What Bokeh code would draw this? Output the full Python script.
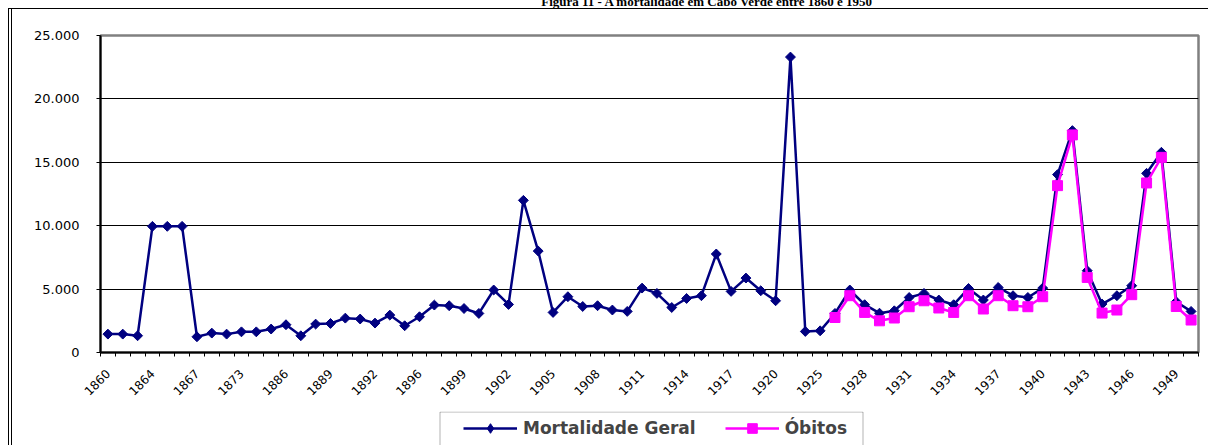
import numpy as np
from math import pi
from bokeh.plotting import figure
from bokeh.layouts import column
from bokeh.models import (ColumnDataSource, FixedTicker, Range1d, Legend, LegendItem, Label,
                          BoxAnnotation)
from bokeh.embed import file_html
from bokeh.resources import INLINE

# ---------------- data ----------------
years = ["1860", "1861", "1862", "1864", "1865", "1866", "1867", "1868", "1870", "1873",
         "1878", "1884", "1886", "1887", "1888", "1889", "1890", "1891", "1892", "1894",
         "1895", "1896", "1897", "1898", "1899", "1900", "1901", "1902", "1903", "1904",
         "1905", "1906", "1907", "1908", "1909", "1910", "1911", "1912", "1913", "1914",
         "1915", "1916", "1917", "1918", "1919", "1920", "1921", "1922", "1925", "1926",
         "1927", "1928", "1929", "1930", "1931", "1932", "1933", "1934", "1935", "1936",
         "1937", "1938", "1939", "1940", "1941", "1942", "1943", "1944", "1945", "1946",
         "1947", "1948", "1949", "1950"]

mortalidade = [1450, 1450, 1320, 9950, 9950, 9950, 1240, 1530, 1450, 1630,
               1630, 1850, 2190, 1320, 2240, 2290, 2710, 2640, 2320, 2950,
               2110, 2820, 3740, 3690, 3470, 3080, 4930, 3790, 12000, 8000,
               3160, 4400, 3630, 3690, 3350, 3240, 5080, 4660, 3550, 4260,
               4480, 7770, 4820, 5870, 4870, 4080, 23300, 1660, 1710, 3080,
               4930, 3770, 3100, 3290, 4340, 4660, 4140, 3770, 5050, 4140,
               5130, 4480, 4340, 5080, 14030, 17500, 6450, 3820, 4480, 5270,
               14130, 15790, 4000, 3240]

obitos = [None] * 49 + [2760, 4480, 3160, 2500, 2720, 3610, 4080, 3510, 3160, 4480,
                        3430, 4480, 3690, 3610, 4400, 13160, 17160, 5920, 3110, 3350,
                        4560, 13370, 15390, 3630, 2560]

series_names = ["Mortalidade Geral", "Óbitos"]
y_ticks = [0, 5000, 10000, 15000, 20000, 25000]
y_tick_labels = ["0", "5.000", "10.000", "15.000", "20.000", "25.000"]
title_text = "Figura 11 - A mortalidade em Cabo Verde entre 1860 e 1950"

NAVY = "#000080"
PINK = "#FF00FF"

# ---------------- main figure ----------------
n = len(years)
src = ColumnDataSource(dict(
    x=list(range(n)),
    mort=mortalidade,
    obit=[np.nan if v is None else v for v in obitos],
))

p = figure(width=1208, height=410, output_backend="svg", toolbar_location=None,
           x_range=Range1d(-0.5, n - 0.5), y_range=Range1d(0, 25000),
           min_border_left=100, min_border_right=10, min_border_top=35, min_border_bottom=58,
           background_fill_color="white", border_fill_color="white")
p.border_fill_alpha = 0
# outer chart-area frame (double line on the left, single line on top)
p.styles = {
    "background": ("linear-gradient(#000,#000) 8px 8px / 1px 100% no-repeat, "
                   "linear-gradient(#000,#000) 11px 8px / 1px 100% no-repeat, "
                   "linear-gradient(#000,#000) 8px 8px / 100% 1px no-repeat, #fff"),
}

p.outline_line_color = "#808080"
p.outline_line_width = 2.5

# x axis
p.xaxis.ticker = FixedTicker(ticks=list(range(0, n, 3)),
                             minor_ticks=[i - 0.5 for i in range(n + 1)])
p.xaxis.major_label_overrides = {i: years[i] for i in range(0, n, 3)}
p.xaxis.major_label_orientation = pi / 4
p.xaxis.major_tick_out = 0
p.xaxis.major_tick_in = 0
p.xaxis.minor_tick_out = 4
p.xaxis.minor_tick_in = 0
p.xaxis.minor_tick_line_color = "black"
p.xaxis.axis_line_color = "black"
p.xaxis.axis_line_width = 2
p.xaxis.major_label_standoff = 15
p.xaxis.major_label_text_font = "DejaVu Sans"
p.xaxis.major_label_text_font_size = "12px"
p.xaxis.major_label_text_color = "black"

# y axis
p.yaxis.ticker = FixedTicker(ticks=y_ticks)
p.yaxis.major_label_overrides = dict(zip(y_ticks, y_tick_labels))
p.yaxis.major_tick_out = 4
p.yaxis.major_tick_in = 0
p.yaxis.major_tick_line_color = "black"
p.yaxis.minor_tick_out = 0
p.yaxis.minor_tick_in = 0
p.yaxis.axis_line_color = "black"
p.yaxis.axis_line_width = 2
p.yaxis.major_label_standoff = 17
p.yaxis.major_label_text_font = "DejaVu Sans"
p.yaxis.major_label_text_font_size = "13px"
p.yaxis.major_label_text_color = "black"

p.xgrid.grid_line_color = None
p.ygrid.ticker = FixedTicker(ticks=y_ticks[1:-1])
p.ygrid.grid_line_color = "black"
p.ygrid.grid_line_width = 1

# series
p.line("x", "mort", source=src, line_color=NAVY, line_width=2.5)
p.scatter("x", "mort", source=src, marker="square", angle=pi / 4, size=7,
          fill_color=NAVY, line_color=NAVY)
p.line("x", "obit", source=src, line_color=PINK, line_width=2.5)
p.scatter("x", "obit", source=src, marker="square", size=10,
          fill_color=PINK, line_color=PINK)

# title (cut off at the top of the page in the reference)
p.add_layout(Label(x=607, y=34, x_units="screen", y_units="screen", text=title_text,
                   text_align="center", text_baseline="alphabetic",
                   text_font="Liberation Serif", text_font_style="bold",
                   text_font_size="13px", text_color="black"), "above")

# ---------------- legend strip ----------------
# (its frame is aligned with the main frame: x from 100 to 1198 on the page)
pl = figure(width=1208, height=35, output_backend="svg", toolbar_location=None,
            x_range=Range1d(0, 1), y_range=Range1d(-2, -1),
            x_axis_type=None, y_axis_type=None,
            min_border_left=100, min_border_right=10, min_border_top=1, min_border_bottom=0,
            background_fill_color="white", border_fill_color="white")
pl.border_fill_alpha = 0
pl.outline_line_color = None
pl.styles = {
    "background": ("linear-gradient(#000,#000) 8px 0 / 1px 100% no-repeat, "
                   "linear-gradient(#000,#000) 11px 0 / 1px 100% no-repeat, #fff"),
}
pl.add_layout(BoxAnnotation(left=339.5, right=762.5, top=33.5, bottom=-20,
                            left_units="screen", right_units="screen",
                            top_units="screen", bottom_units="screen",
                            fill_alpha=0, line_color="black", line_width=1))

l1 = pl.line("x", "mort", source=src, line_color=NAVY, line_width=2.5)
m1 = pl.scatter("x", "mort", source=src, marker="diamond", size=10,
                fill_color=NAVY, line_color=NAVY)
l2 = pl.line("x", "obit", source=src, line_color=PINK, line_width=2.5)
m2 = pl.scatter("x", "obit", source=src, marker="square", size=10,
                fill_color=PINK, line_color=PINK)

legend = Legend(items=[LegendItem(label=series_names[0], renderers=[l1, m1]),
                       LegendItem(label=series_names[1], renderers=[l2, m2])],
                orientation="horizontal", location=(363, 4.7), margin=0, padding=0,
                spacing=29, label_standoff=6, glyph_width=54, glyph_height=24,
                label_height=24, label_text_font="DejaVu Sans",
                label_text_font_style="bold", label_text_font_size="17px",
                border_line_alpha=0, background_fill_alpha=0)
pl.add_layout(legend)

layout = column(p, pl, spacing=0)
open("out.html", "w").write(file_html(layout, INLINE))
